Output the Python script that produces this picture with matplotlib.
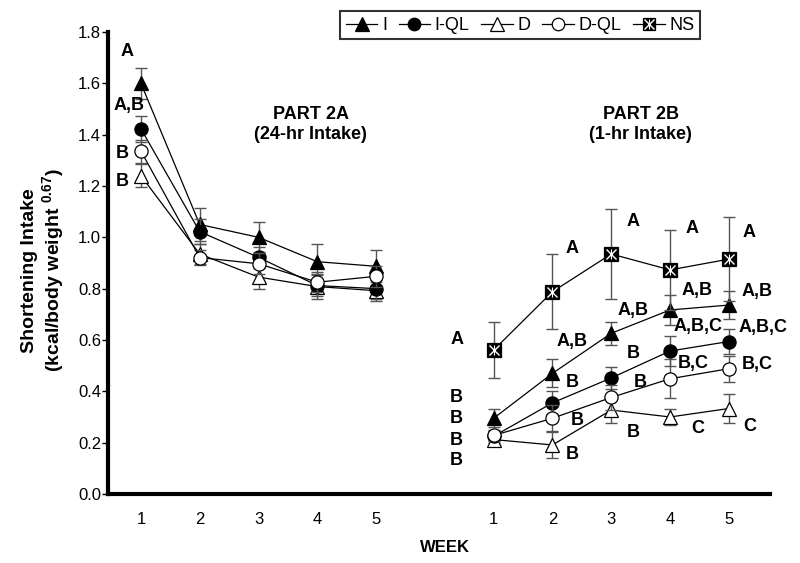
import matplotlib
matplotlib.use("Agg")
import matplotlib.pyplot as plt
from matplotlib.legend_handler import HandlerTuple
from matplotlib.lines import Line2D

plt.rcParams['font.family'] = ['Liberation Sans', 'DejaVu Sans']
plt.rcParams['mathtext.fontset'] = 'custom'
plt.rcParams['mathtext.bf'] = 'Liberation Sans:bold'
plt.rcParams['mathtext.rm'] = 'Liberation Sans'

# ---------------- data ----------------
weeks = [1, 2, 3, 4, 5]
week_labels = ["1", "2", "3", "4", "5"]
ytick_vals = [0.0, 0.2, 0.4, 0.6, 0.8, 1.0, 1.2, 1.4, 1.6, 1.8]

# Part 2A (24-hr intake)
I_a = [1.60, 1.05, 1.00, 0.905, 0.887]
I_a_err = [0.06, 0.065, 0.058, 0.068, 0.062]
IQL_a = [1.423, 1.022, 0.922, 0.812, 0.800]
IQL_a_err = [0.05, 0.05, 0.04, 0.04, 0.04]
D_a = [1.24, 0.935, 0.845, 0.808, 0.792]
D_a_err = [0.045, 0.04, 0.045, 0.05, 0.04]
DQL_a = [1.336, 0.921, 0.897, 0.825, 0.848]
DQL_a_err = [0.045, 0.03, 0.04, 0.04, 0.04]

# Part 2B (1-hr intake)
NS_b = [0.561, 0.788, 0.935, 0.873, 0.915]
NS_b_err = [0.11, 0.146, 0.175, 0.155, 0.165]
I_b = [0.295, 0.470, 0.626, 0.717, 0.736]
I_b_err = [0.036, 0.055, 0.045, 0.058, 0.055]
IQL_b = [0.225, 0.355, 0.452, 0.557, 0.594]
IQL_b_err = [0.02, 0.045, 0.043, 0.06, 0.05]
DQL_b = [0.228, 0.295, 0.376, 0.449, 0.488]
DQL_b_err = [0.02, 0.05, 0.05, 0.075, 0.05]
D_b = [0.212, 0.191, 0.327, 0.300, 0.333]
D_b_err = [0.015, 0.05, 0.05, 0.03, 0.055]

# significance letters
letters_a = ["A", "A,B", "B", "B"]
letters_b_week1 = ["A", "B", "B", "B", "B"]
letters_NS_b = ["A", "A", "A", "A"]
letters_I_b = ["A,B", "A,B", "A,B", "A,B"]
letters_IQL_b = ["B", "B", "A,B,C", "A,B,C"]
letters_DQL_b = ["B", "B", "B,C", "B,C"]
letters_D_b = ["B", "B", "C", "C"]

legend_labels = ["I", "I-QL", "D", "D-QL", "NS"]

offset_b = 6  # Part 2B weeks are drawn to the right of Part 2A

# ---------------- figure ----------------
fig = plt.figure(figsize=(8.0, 5.63), dpi=100)
ax = fig.add_axes([0.135, 0.1226, 0.8275, 0.8206])

ecol = '#555555'
ms_tri = 10
ms_circ = 9.5
ms_sq = 10


def series(x, y, err, marker, face, ms, z=3):
    ax.errorbar(x, y, yerr=err, fmt='none', ecolor=ecol, elinewidth=1.0,
                capsize=4, capthick=1.0, zorder=z - 1)
    ax.plot(x, y, color='black', lw=0.9, marker=marker, markersize=ms,
            markerfacecolor=face, markeredgecolor='black', markeredgewidth=0.9,
            zorder=z)


xa = weeks
xb = [w + offset_b for w in weeks]

series(xa, D_a, D_a_err, '^', 'white', ms_tri, z=3)
series(xa, I_a, I_a_err, '^', 'black', ms_tri, z=4)
series(xa, IQL_a, IQL_a_err, 'o', 'black', ms_circ, z=5)
series(xa, DQL_a, DQL_a_err, 'o', 'white', ms_circ, z=6)

series(xb, D_b, D_b_err, '^', 'white', ms_tri, z=3)
series(xb, I_b, I_b_err, '^', 'black', ms_tri, z=4)
series(xb, IQL_b, IQL_b_err, 'o', 'black', ms_circ, z=5)
series(xb, DQL_b, DQL_b_err, 'o', 'white', ms_circ, z=6)
series(xb, NS_b, NS_b_err, 's', 'black', ms_sq, z=7)
ax.plot(xb, NS_b, ls='none', marker='x', markersize=7.5, markeredgecolor='white',
        markeredgewidth=1.0, zorder=8)
ax.plot(xb, NS_b, ls='none', marker='|', markersize=7.5, markeredgecolor='white',
        markeredgewidth=0.8, zorder=8)

# axes styling
ax.set_xlim(0.44, 11.7)
ax.set_ylim(0, 1.8)
ax.spines['top'].set_visible(False)
ax.spines['right'].set_visible(False)
ax.spines['left'].set_linewidth(3)
ax.spines['bottom'].set_linewidth(3)
ax.set_yticks(ytick_vals)
ax.set_yticklabels([f"{v:.1f}" for v in ytick_vals], fontsize=12)
ax.tick_params(axis='y', direction='out', length=4, width=1, pad=1)
ax.set_xticks(xa + xb)
ax.set_xticklabels(week_labels + week_labels, fontsize=12)
ax.tick_params(axis='x', length=0, pad=13)

fig.text(0.556, 0.027, "WEEK", fontsize=12, fontweight='bold', ha='center', va='center')
fig.text(0.055, 0.52, "Shortening Intake\n(kcal/body weight $^{\\mathbf{0.67}}$)",
         rotation=90, fontsize=14, fontweight='bold', ha='center', va='center',
         linespacing=1.15)

ax.text(3.89, 1.44, "PART 2A\n(24-hr Intake)", fontsize=13, fontweight='bold',
        ha='center', va='center', linespacing=1.2)
ax.text(9.5, 1.44, "PART 2B\n(1-hr Intake)", fontsize=13, fontweight='bold',
        ha='center', va='center', linespacing=1.2)

tk = dict(fontsize=13, fontweight='bold', ha='center', va='center')

# Part 2A week 1 letters
pos_a = [(0.76, 1.725), (0.80, 1.515), (0.68, 1.327), (0.68, 1.217)]
for s, (x, y) in zip(letters_a, pos_a):
    ax.text(x, y, s, **tk)

# Part 2B week 1 letters
pos_b1 = [(6.37, 0.60), (6.37, 0.374), (6.37, 0.296), (6.37, 0.21), (6.37, 0.132)]
for s, (x, y) in zip(letters_b_week1, pos_b1):
    ax.text(x, y, s, **tk)

pos_NS = [(8.34, 0.958), (9.37, 1.06), (10.37, 1.036), (11.34, 1.02)]
pos_I = [(8.34, 0.596), (9.37, 0.713), (10.46, 0.791), (11.48, 0.787)]
pos_IQL = [(8.34, 0.436), (9.37, 0.549), (10.47, 0.654), (11.58, 0.647)]
pos_DQL = [(8.42, 0.288), (9.49, 0.436), (10.39, 0.51), (11.48, 0.506)]
pos_D = [(8.34, 0.152), (9.37, 0.238), (10.47, 0.257), (11.36, 0.261)]
for labs, poss in [(letters_NS_b, pos_NS), (letters_I_b, pos_I), (letters_IQL_b, pos_IQL),
                   (letters_DQL_b, pos_DQL), (letters_D_b, pos_D)]:
    for s, (x, y) in zip(labs, poss):
        ax.text(x, y, s, **tk)


# legend
def h(marker, face, ms):
    return Line2D([], [], color='black', lw=0.9, marker=marker, markersize=ms,
                  markerfacecolor=face, markeredgecolor='black', markeredgewidth=0.9)


ns_h = (h('s', 'black', 9),
        Line2D([], [], ls='none', marker='x', markersize=6.5, markeredgecolor='white', markeredgewidth=1.0),
        Line2D([], [], ls='none', marker='|', markersize=6.5, markeredgecolor='white', markeredgewidth=0.8))
handles = [h('^', 'black', 9.5), h('o', 'black', 9), h('^', 'white', 9.5),
           h('o', 'white', 9), ns_h]
leg = fig.legend(handles, legend_labels, loc='center', bbox_to_anchor=(0.65, 0.955), ncol=5,
                 fontsize=13, frameon=True, fancybox=False, edgecolor='black',
                 handlelength=1.75, handletextpad=0.25, columnspacing=0.65,
                 borderpad=0.3, borderaxespad=0,
                 handler_map={tuple: HandlerTuple(ndivide=1, pad=0)})
leg.get_frame().set_linewidth(1.5)

fig.savefig("out.png", dpi=100)
